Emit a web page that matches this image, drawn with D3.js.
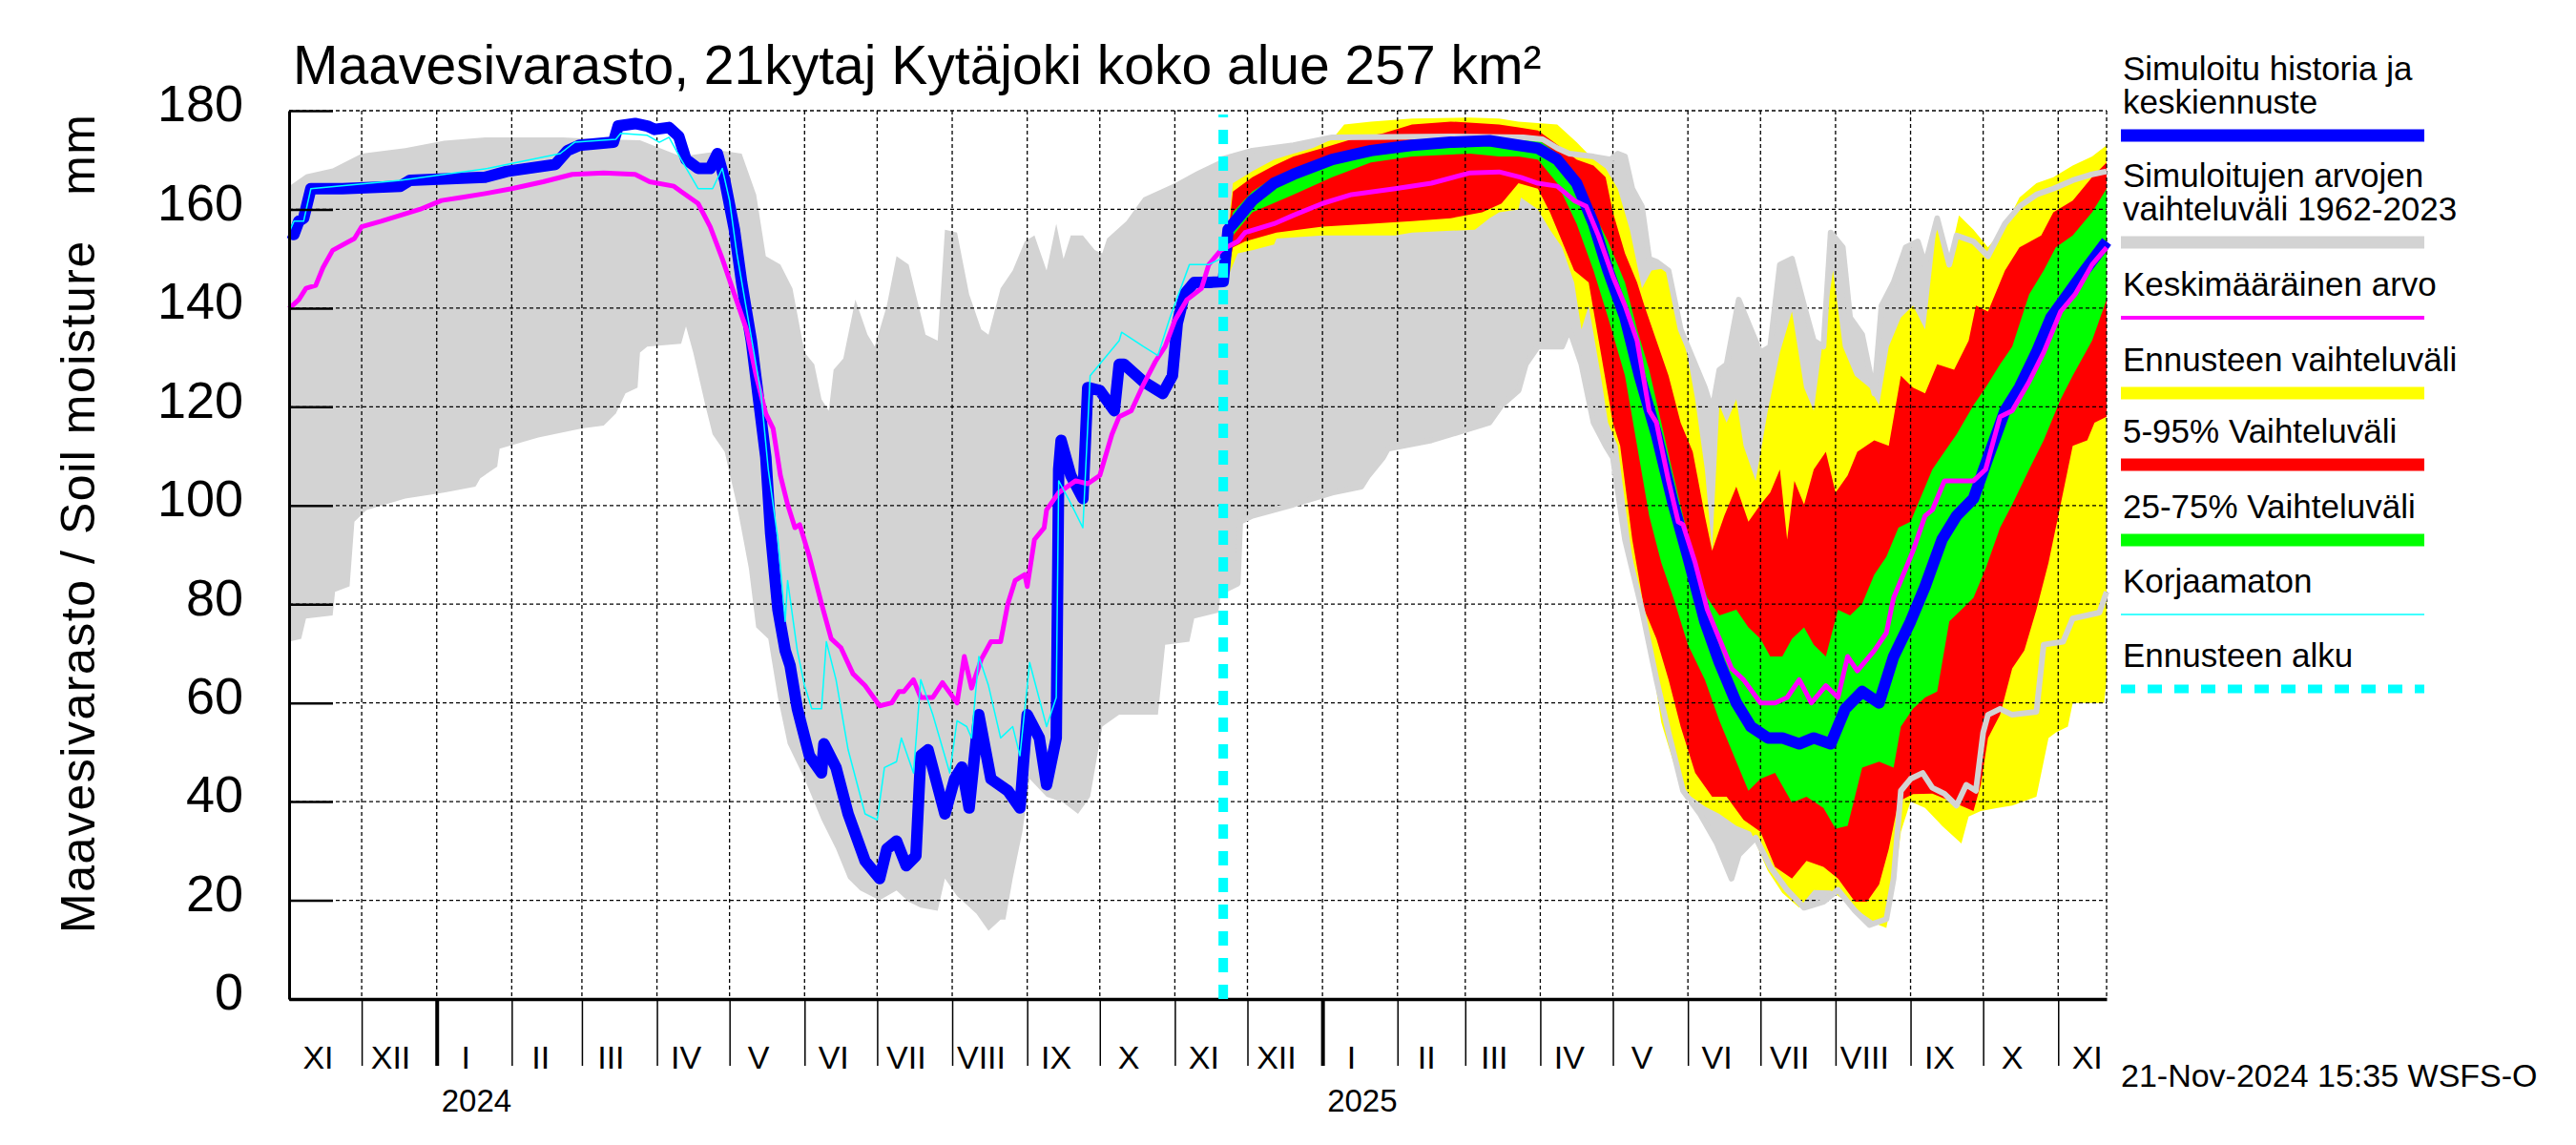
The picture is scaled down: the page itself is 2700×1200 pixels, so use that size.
<!DOCTYPE html>
<html>
<head>
<meta charset="utf-8">
<script src="https://cdn.jsdelivr.net/npm/d3@7"></script>
<style>
  body { margin: 0; background: #fff; }
  text { font-family: "Liberation Sans", Arial, Helvetica, sans-serif; fill: #000; }
</style>
</head>
<body>
<div id="chart"></div>
<script>
// Soil moisture chart, 21kytaj Kytäjoki
// day = days since 2023-11-01, value = mm

const startDate = new Date(2023, 10, 1);
const endDate = new Date(2025, 10, 21);
const forecastDay = 386;   // 21-Nov-2024

const monthLabels = ["I", "II", "III", "IV", "V", "VI", "VII", "VIII", "IX", "X", "XI", "XII"];
const yTickValues = [0, 20, 40, 60, 80, 100, 120, 140, 160, 180];

// historic range 1962-2023 (upper / lower edge)
const grayMax = [[0,164.7],[7,167.1],[18,168.3],[30,171.3],[48,172.4],[64,173.9],[81,174.6],[113,174.6],[130,174.2],[145,174],[162,170.7],[179,171.9],[187,171.3],[193,163],[197,150.5],[203,148.8],[208,144],[213,131],[217,128.6],[220,121.5],[223,119.2],[225,127.5],[229,129.8],[234,141.7],[239,134.6],[242,132.2],[247,140.5],[251,150.5],[256,148.8],[263,134.6],[268,133.4],[271,155.9],[276,155.3],[281,142.8],[286,135.7],[289,134.6],[294,144],[299,147.6],[304,153.5],[308,154.7],[313,147.6],[317,157.1],[320,150],[323,154.7],[328,154.7],[333,151.7],[336,151.1],[338,154.1],[346,157.6],[353,162.4],[366,165.3],[375,167.7],[385,170.1],[398,171.9],[415,173],[431,174.6],[480,174.8],[510,174.6],[518,174.2],[524,172.4],[529,171.3],[539,170.7],[546,170.1],[549,171.3],[552,170.7],[555,164.2],[559,160.6],[562,150],[565,149.4],[570,147.6],[575,135.7],[580,129.8],[585,123.9],[588,119.2],[591,127.5],[594,128.6],[599,141.7],[604,135.7],[608,131],[612,132.2],[616,148.8],[621,150],[626,140.5],[630,133.4],[634,132.2],[637,155.3],[642,152.3],[645,138.1],[650,134.6],[655,122.7],[658,140.5],[663,145.2],[668,152.3],[673,153.5],[676,148.8],[681,158.2],[686,148.8],[689,154.7],[696,153.5],[702,150.5],[709,157.1],[715,160.6],[722,163],[729,164.2],[737,165.9],[745,167.1],[751,167.7]];
const grayMin = [[0,72.4],[5,73],[7,77.1],[18,77.7],[19,82.5],[25,83.6],[27,96.7],[32,99.1],[48,101.4],[64,102.6],[77,103.8],[79,105.5],[86,107.9],[87,111.5],[103,113.8],[121,115.6],[130,116.2],[135,118.6],[139,122.7],[144,123.9],[145,131],[148,132.2],[162,132.8],[164,136.3],[167,131],[172,120.3],[175,114.4],[180,110.9],[185,100.2],[190,87.2],[193,75.3],[198,73],[202,61.1],[206,51.7],[213,44.6],[220,36.3],[226,30.4],[231,24.4],[236,22],[244,20],[251,22],[256,19.7],[261,18.5],[268,17.9],[271,24.4],[276,20.9],[284,17.3],[289,13.8],[294,16.1],[296,16.1],[299,24.4],[303,33.9],[306,44.6],[313,41],[320,39.8],[326,37.5],[331,41],[336,55.2],[343,57.6],[359,57.6],[362,71.8],[372,72.4],[374,77.1],[384,78.3],[385,82.5],[392,84.2],[393,96.7],[398,97.9],[415,100.2],[431,102.6],[443,103.8],[446,106.1],[452,109.7],[454,111.5],[472,113.2],[488,115.6],[496,116.8],[501,120.3],[508,123.3],[511,128.6],[516,132.2],[526,132.2],[529,135.7],[534,128.6],[539,116.8],[544,112.1],[547,109.7],[552,93.1],[559,78.9],[565,64.7],[570,54],[576,42.2],[583,37.5],[590,31.5],[596,24.4],[599,29.2],[606,32.7],[612,26.8],[619,22.1],[626,18.5],[634,19.7],[640,22.1],[647,17.9],[653,15],[660,16.2],[663,24.4],[666,42.2],[670,44.6],[675,45.8],[679,42.8],[684,41.6],[689,39.2],[693,43.4],[697,42.2],[700,54],[702,57.6],[707,58.8],[712,57.6],[722,58.2],[725,71.8],[733,72.4],[737,77.1],[748,78.3],[751,82.5]];

// simulated history + median forecast
const simulated = [[0,155.3],[2,154.9],[4,157.6],[6,158.2],[9,164.2],[22,164.2],[46,164.7],[50,165.9],[81,166.5],[90,167.7],[110,169.1],[115,171.9],[120,173],[134,173.6],[136,176.9],[143,177.4],[148,176.9],[151,176.2],[157,176.6],[161,174.8],[164,170.1],[169,168.3],[174,168.3],[177,171.3],[180,165.9],[184,155.9],[187,145.2],[191,133.4],[194,121.5],[197,109.7],[199,94.3],[202,78.9],[205,70.6],[207,67.6],[210,58.8],[215,49.3],[220,45.8],[221,51.7],[226,46.9],[231,37.5],[238,28],[244,24.4],[247,30.4],[251,32],[255,27],[259,29],[261,49.3],[264,50.5],[271,37.5],[275,44.6],[278,47],[281,38.7],[285,57.6],[290,44.6],[297,42.2],[302,38.7],[305,57.6],[310,52.9],[313,43.4],[317,52.9],[318,107.3],[319,113.2],[323,106.1],[328,101.4],[330,123.9],[335,123.3],[341,119.2],[343,128.6],[345,128.6],[353,125.1],[361,122.7],[365,126.3],[367,136.9],[370,142.8],[374,145.2],[380,145.2],[386,145.4],[388,155.9],[392,158.2],[398,161.8],[407,165.3],[415,167.1],[431,170.1],[447,171.9],[464,173],[480,173.6],[496,173.9],[508,173],[516,172.4],[524,170.1],[532,165.3],[539,157.1],[545,147.6],[552,138.1],[558,126.3],[565,114.4],[572,100.2],[578,89.6],[585,76.5],[591,68.2],[598,60],[604,55.2],[611,52.9],[617,52.9],[624,51.7],[630,52.9],[637,51.7],[643,58.8],[650,62.3],[657,60],[663,69.4],[670,76.5],[676,83.6],[683,93.1],[689,97.9],[696,101.4],[702,109.7],[709,119.2],[715,123.9],[722,131],[728,138.1],[735,142.8],[742,147.6],[751,153.5]];

// uncorrected simulation (Korjaamaton)
const uncorrected = [[0,155.3],[2,157.6],[6,157.6],[9,164.2],[46,165.9],[82,168.3],[112,171.3],[118,173.6],[135,174.2],[137,175.4],[148,175],[153,173.6],[157,174.6],[162,170.1],[169,164.2],[175,164.2],[179,168.3],[182,161.8],[185,151.1],[190,136.9],[195,122.7],[198,107.3],[202,93.1],[205,76.5],[206,84.8],[210,70.6],[213,63.5],[216,58.8],[220,58.8],[222,72.4],[226,64.7],[231,50.5],[238,37.5],[243,36.3],[246,46.9],[251,48.1],[253,52.9],[258,45.8],[261,64.7],[266,57.6],[273,45.8],[276,56.4],[280,55.2],[282,52.9],[285,69.4],[289,63.5],[294,52.9],[299,55.2],[302,49.3],[306,68.2],[313,55.2],[317,61.1],[318,105],[322,101.4],[328,95.5],[331,126.3],[343,133.4],[344,135.1],[353,132.2],[359,130.4],[364,138.1],[372,148.8],[380,148.8],[385,150]];

// mean value
const meanValue = [[0,139.9],[4,141.7],[7,144],[11,144.6],[14,148.2],[18,151.7],[27,154.1],[30,156.5],[38,157.6],[46,158.8],[54,160],[63,161.8],[71,162.4],[81,163.2],[92,164.2],[105,165.6],[117,167.1],[130,167.4],[143,167.1],[149,165.6],[159,164.7],[162,163.6],[169,161.2],[174,156.5],[179,150],[184,142.8],[189,135.7],[193,126.3],[197,118.6],[200,115.6],[203,106.1],[206,100.2],[209,95.5],[211,96.1],[215,89.6],[220,80.1],[224,73],[228,71.2],[233,65.9],[238,63.5],[244,59.4],[249,60],[252,62.3],[254,62.3],[258,64.7],[261,61.1],[266,61.1],[270,64.1],[276,60],[279,69.4],[282,63],[286,68.8],[290,72.4],[294,72.4],[297,80.1],[300,84.8],[304,86],[305,83.6],[308,93.1],[312,95.5],[313,99.1],[318,102.6],[325,105],[330,104.4],[335,106.1],[340,114.4],[343,118],[348,119.2],[353,124.5],[358,129.2],[362,132.2],[366,137.5],[371,141.7],[377,144],[380,148.8],[385,151.7],[392,153.5],[395,155.3],[407,157.1],[415,158.8],[427,161.2],[439,163],[457,164.2],[472,165.3],[488,167.4],[500,167.6],[509,166.5],[516,165.3],[524,164.7],[531,161.8],[536,160.6],[541,154.7],[547,146.4],[552,140.5],[557,133.4],[562,119.2],[565,116.8],[570,105],[574,96.7],[576,96.1],[581,88.4],[586,78.9],[591,73],[596,67],[601,64.7],[608,60],[614,60],[619,61.1],[624,64.7],[629,60],[635,63.5],[640,61.1],[644,69.4],[648,66.5],[655,70.6],[660,74.2],[663,81.3],[668,87.2],[671,90.8],[676,97.9],[679,99.1],[684,105],[689,105],[696,105],[701,107.3],[707,118],[712,119.2],[719,125.1],[725,131],[732,139.3],[738,142.8],[745,148.8],[751,152.3]];

// forecast ranges
const yellowMax = [[386,146],[387,151.1],[390,165.3],[398,167.7],[407,170.1],[415,171.3],[423,172.4],[431,174.2],[436,177.2],[447,177.8],[464,178.4],[488,178.6],[500,178.4],[508,177.8],[524,177.2],[532,173.6],[539,170.1],[544,168.3],[549,164.2],[554,155.9],[559,144],[563,147.6],[570,148.2],[573,140.5],[578,129.8],[581,121.5],[585,107.3],[588,91],[591,120.3],[594,116.8],[598,121.5],[601,112.1],[606,105],[611,119.2],[616,131],[621,139.3],[626,123.9],[630,119.2],[635,138.1],[638,147.6],[642,132.2],[647,126.3],[653,123.9],[657,120.3],[661,132.2],[666,138.1],[671,140.5],[676,135.7],[681,157.6],[686,150],[690,158.8],[696,155.9],[702,152.3],[709,156.5],[715,162.4],[722,165.3],[729,166.5],[737,168.9],[745,170.7],[751,173]];
const yellowMin = [[386,146],[388,146.4],[392,151.1],[398,151.7],[407,152.9],[408,154.1],[427,154.7],[457,154.7],[464,155.3],[490,155.9],[496,158.2],[500,159.4],[508,160],[509,162.4],[516,160],[521,155.9],[526,152.3],[531,145.2],[534,135.7],[537,140.5],[542,126.3],[545,116.8],[549,112.1],[554,93],[559,77],[562,72],[567,56],[572,48],[576,42.2],[585,39],[591,37.5],[598,35.1],[604,33.9],[611,26],[617,21.5],[624,18.5],[630,22.1],[637,22],[644,19.5],[650,17.3],[657,15],[660,14.4],[663,22.1],[666,33.9],[670,40],[676,38.7],[683,35.1],[691,31.5],[694,37],[699,38.1],[706,38.7],[712,39.2],[722,41],[727,52.9],[730,54],[735,55.2],[737,60],[750,60],[751,64.7]];
const redMax = [[386,146],[387,150],[390,163.6],[398,166.5],[407,168.9],[415,170.7],[427,172.4],[439,174.2],[452,175.4],[464,177.2],[480,177.8],[500,177.2],[508,176.6],[516,176],[526,172.4],[532,170.1],[539,168.9],[544,166.5],[547,159.4],[552,151.1],[557,145.2],[560,140.5],[565,133.4],[570,126.3],[575,116.8],[580,110.9],[585,97.9],[588,90.8],[593,97.9],[598,103.8],[603,96.7],[608,100.2],[612,102.6],[616,107.3],[619,93.1],[622,105],[626,100.2],[630,107.3],[635,110.9],[639,102.6],[644,106.1],[648,110.9],[655,113.2],[661,112.1],[666,126.3],[671,123.9],[676,122.7],[681,128.6],[688,127.5],[694,133.4],[697,140.5],[702,139.3],[709,147.6],[715,152.3],[724,154.7],[729,159.4],[737,161.8],[745,166.5],[751,169.5]];
const redMin = [[386,146],[388,147.6],[390,152.3],[395,153.5],[408,155.3],[427,156.5],[447,157.1],[464,157.6],[480,158.2],[493,159.4],[501,161.2],[508,165.3],[516,164.2],[521,159.4],[526,153.5],[531,147.6],[537,145.2],[542,131],[547,116.8],[550,112.1],[555,93.1],[560,78.9],[565,73],[570,64.7],[575,55.2],[581,45.8],[588,41],[594,41],[601,36.3],[608,33.9],[614,26.8],[621,24.4],[627,28],[634,26.8],[640,24.4],[647,19.7],[652,19.7],[657,23.2],[661,30.4],[665,40],[671,41.5],[679,41.6],[688,39.8],[696,38.1],[699,43.4],[702,52.9],[707,57.6],[712,67],[717,70.6],[722,78.9],[727,88.4],[732,100.2],[737,112.1],[743,113.2],[746,116.8],[751,118]];
const greenMax = [[386,146],[387,152.3],[390,159.4],[398,163.6],[407,166.5],[415,168.3],[431,170.7],[447,172.4],[464,173.9],[488,175.1],[500,174.8],[508,174.6],[516,174.2],[524,171.3],[532,166.5],[539,159.4],[545,153.5],[552,145.2],[557,135.7],[562,127.5],[567,116.8],[572,106.1],[576,97.9],[581,88.4],[586,81.3],[591,77.7],[598,78.9],[603,75.3],[608,73],[612,69.4],[617,69.4],[621,73],[626,75.3],[630,71.8],[635,69.4],[640,78.9],[645,77.7],[650,80.1],[655,86],[660,89.6],[665,95.5],[670,96.7],[675,102.6],[679,107.3],[684,110.9],[689,114.4],[696,120.3],[701,123.9],[707,128.6],[712,132.2],[719,142.8],[725,147.6],[730,152.3],[737,154.7],[745,159.4],[751,164.2]];
const greenMin = [[386,146],[387,150],[390,154.7],[398,159.4],[415,163],[431,166.5],[447,169.5],[464,170.7],[488,171.3],[500,170.7],[508,170.7],[516,170.1],[524,165.3],[532,157.1],[539,147.6],[545,138.1],[552,126.3],[557,112.1],[562,97.9],[567,88.4],[572,81.3],[578,71.8],[585,64.7],[591,56.4],[598,48.1],[603,42.2],[608,44.6],[614,45.8],[621,39.8],[627,41],[634,38.7],[639,34.5],[644,35.1],[647,41],[650,46.9],[657,48.1],[663,46.9],[666,55.2],[671,58.8],[676,61.1],[681,62.3],[686,76.5],[691,78.9],[696,81.3],[701,87.2],[707,95.5],[712,100.2],[719,107.3],[725,113.2],[732,121.5],[737,126.3],[745,133.4],[751,141.7]];

const titleText = "Maavesivarasto, 21kytaj Kytäjoki koko alue 257 km²";
const yLabelText = "Maavesivarasto / Soil moisture   mm";
const stampText = "21-Nov-2024 15:35 WSFS-O";

const legendItems = [
  { lines: ["Simuloitu historia ja", "keskiennuste"], color: "#0000ff", h: 13 },
  { lines: ["Simuloitujen arvojen", "vaihteluväli 1962-2023"], color: "#d3d3d3", h: 13 },
  { lines: ["Keskimääräinen arvo"], color: "#ff00ff", h: 4 },
  { lines: ["Ennusteen vaihteluväli"], color: "#ffff00", h: 13 },
  { lines: ["5-95% Vaihteluväli"], color: "#ff0000", h: 13 },
  { lines: ["25-75% Vaihteluväli"], color: "#00ff00", h: 13 },
  { lines: ["Korjaamaton"], color: "#00ffff", h: 1.5 },
  { lines: ["Ennusteen alku"], color: "#00ffff", h: 9, dash: "15,13" }
];

// ---- layout
const W = 2700, H = 1200;
const plotL = 303, plotR = 2208, plotT = 116, plotB = 1047;

const svg = d3.select("#chart").append("svg")
    .attr("width", W)
    .attr("height", H)
    .style("background", "#fff");

const x = d3.scaleTime().domain([startDate, endDate]).range([plotL, plotR]);
const y = d3.scaleLinear().domain([0, 180]).range([plotB, plotT]);

const dayDate = d => d3.timeDay.offset(startDate, d);
const line = d3.line().x(d => x(dayDate(d[0]))).y(d => y(d[1]));

// band polygon: upper edge forward, lower edge backward
function band(upper, lower) {
    return line(upper.concat(lower.slice().reverse())) + "Z";
}

// historic range fill
svg.append("path").attr("d", band(grayMax, grayMin)).attr("fill", "#d3d3d3");

// forecast ranges
svg.append("path").attr("d", band(yellowMax, yellowMin)).attr("fill", "#ffff00");
svg.append("path").attr("d", band(redMax, redMin)).attr("fill", "#ff0000");
svg.append("path").attr("d", band(greenMax, greenMin)).attr("fill", "#00ff00");

// grid
const monthStarts = d3.timeMonth.range(new Date(2023, 11, 1), new Date(2025, 10, 22));
const grid = svg.append("g").attr("stroke", "#000").attr("stroke-width", 1.3).attr("stroke-dasharray", "4,3");
grid.selectAll(".gx").data(monthStarts.concat([endDate])).join("line")
    .attr("x1", d => x(d)).attr("x2", d => x(d))
    .attr("y1", plotT).attr("y2", plotB);
grid.selectAll(".gy").data(yTickValues.filter(v => v > 0)).join("line")
    .attr("x1", plotL).attr("x2", plotR)
    .attr("y1", d => y(d)).attr("y2", d => y(d));

// historic range edges drawn over the forecast
const lineStyle = (sel, color, w) => sel.attr("fill", "none").attr("stroke", color)
    .attr("stroke-width", w).attr("stroke-linejoin", "round");
svg.append("path").attr("d", line(grayMax.filter(d => d[0] >= 385))).call(lineStyle, "#d3d3d3", 6);
svg.append("path").attr("d", line(grayMin.filter(d => d[0] >= 385))).call(lineStyle, "#d3d3d3", 6);

// series lines
svg.append("path").attr("d", line(simulated)).call(lineStyle, "#0000ff", 12);
svg.append("path").attr("d", line(meanValue)).call(lineStyle, "#ff00ff", 5);
svg.append("path").attr("d", line(uncorrected)).call(lineStyle, "#00ffff", 1.5);

// y axis
const yAxis = d3.axisLeft(y).tickValues(yTickValues).tickSizeInner(-46).tickSizeOuter(0).tickPadding(48);
const gy = svg.append("g").attr("transform", `translate(${plotL},0)`).call(yAxis);
gy.select(".domain").attr("stroke-width", 3);
gy.selectAll(".tick line").attr("stroke-width", 2.5);
gy.selectAll(".tick text").attr("font-size", 54).attr("dy", "0.2em")
    .style("font-family", "'Liberation Sans', Arial, sans-serif");

// x axis
const xAxis = d3.axisBottom(x).tickValues(monthStarts).tickSizeInner(70).tickSizeOuter(0).tickFormat("");
const gx = svg.append("g").attr("transform", `translate(0,${plotB})`).call(xAxis);
gx.select(".domain").attr("stroke-width", 3.5);
gx.selectAll(".tick line").attr("stroke-width", d => d.getMonth() === 0 ? 4 : 1.5);

// month labels
const labelMonths = d3.timeMonth.range(new Date(2023, 10, 1), new Date(2025, 10, 2));
svg.append("g").selectAll("text").data(labelMonths).join("text")
    .attr("x", d => x(d3.timeDay.offset(d, 12)))
    .attr("y", 1120)
    .attr("text-anchor", "middle")
    .attr("font-size", 34)
    .text(d => monthLabels[d.getMonth()]);

// year labels
svg.append("g").selectAll("text").data(labelMonths.filter(d => d.getMonth() === 0)).join("text")
    .attr("x", d => x(d) + 5)
    .attr("y", 1165)
    .attr("font-size", 33)
    .text(d => d.getFullYear());

// forecast start
svg.append("line")
    .attr("x1", x(dayDate(forecastDay))).attr("x2", x(dayDate(forecastDay)))
    .attr("y1", plotB).attr("y2", 120)
    .attr("stroke", "#00ffff").attr("stroke-width", 10).attr("stroke-dasharray", "15,13");

// texts
svg.append("text").attr("x", 307).attr("y", 88).attr("font-size", 57).text(titleText);
svg.append("text").attr("x", 2223).attr("y", 1139).attr("font-size", 34).text(stampText);
svg.append("text")
    .attr("transform", "translate(99,549) rotate(-90)")
    .attr("text-anchor", "middle")
    .attr("font-size", 50)
    .attr("textLength", 858)
    .attr("lengthAdjust", "spacing")
    .style("white-space", "pre")
    .text(yLabelText);

// legend
const legendTop = [84, 196, 310, 389, 464, 543, 621, 699];
const lg = svg.append("g");
legendItems.forEach((item, i) => {
    item.lines.forEach((t, j) => {
        lg.append("text").attr("x", 2225).attr("y", legendTop[i] + j * 35)
            .attr("font-size", 35).text(t);
    });
    const yy = legendTop[i] + (item.lines.length - 1) * 35 + 23;
    lg.append("line").attr("x1", 2223).attr("x2", 2541).attr("y1", yy).attr("y2", yy)
        .attr("stroke", item.color).attr("stroke-width", item.h)
        .attr("stroke-dasharray", item.dash || null);
});
</script>
</body>
</html>
